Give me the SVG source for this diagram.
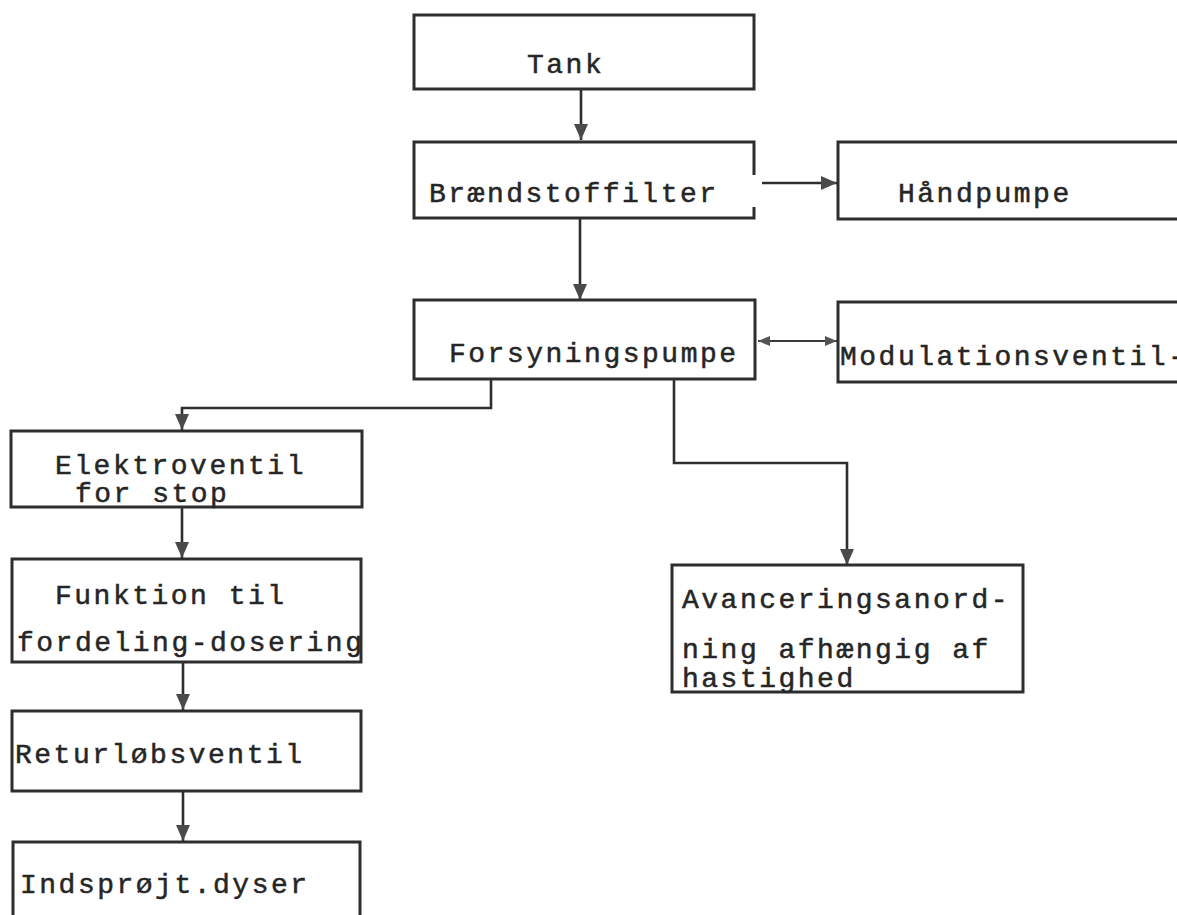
<svg xmlns="http://www.w3.org/2000/svg" width="1177" height="915" viewBox="0 0 1177 915">
  <defs>
    <style>
      .box { fill: #ffffff; stroke: #2e2e2e; stroke-width: 3; }
      .edge { fill: none; stroke: #2e2e2e; stroke-width: 2.6; }
      .thin { fill: none; stroke: #3a3a3a; stroke-width: 2; }
      text { font-family: "Liberation Mono", "DejaVu Sans Mono", monospace; font-size: 28px; letter-spacing: 2.5px; fill: #262626; stroke: #262626; stroke-width: 0.5; }
    </style>
    <marker id="arrow" markerUnits="userSpaceOnUse" markerWidth="16" markerHeight="18" viewBox="0 0 16 18" refX="16" refY="8" orient="auto">
      <path d="M0,1 L16,8 L0,15 Z" fill="#4a4a4a"/>
    </marker>
    <marker id="arrowSmall" markerUnits="userSpaceOnUse" markerWidth="12" markerHeight="12" viewBox="0 0 12 12" refX="12" refY="6" orient="auto-start-reverse">
      <path d="M0,1 L12,6 L0,11 Z" fill="#555555"/>
    </marker>
  </defs>
  <rect width="1177" height="915" fill="#ffffff"/>

  <!-- connectors -->
  <g id="connectors">
    <line class="edge" x1="581" y1="89" x2="581" y2="140" marker-end="url(#arrow)"/>
    <line class="edge" x1="762" y1="183" x2="837" y2="183" marker-end="url(#arrow)"/>
    <line class="edge" x1="580" y1="218" x2="580" y2="300" marker-end="url(#arrow)"/>
    <line class="thin" x1="758" y1="341" x2="837" y2="341" marker-start="url(#arrowSmall)" marker-end="url(#arrowSmall)"/>
    <polyline class="edge" points="491,379 491,408 182,408 182,430" marker-end="url(#arrow)"/>
    <polyline class="edge" points="674,379 674,463 847,463 847,565" marker-end="url(#arrow)"/>
    <line class="edge" x1="182" y1="507" x2="182" y2="558" marker-end="url(#arrow)"/>
    <line class="edge" x1="183" y1="662" x2="183" y2="710" marker-end="url(#arrow)"/>
    <line class="edge" x1="183" y1="791" x2="183" y2="841" marker-end="url(#arrow)"/>
  </g>

  <!-- nodes -->
  <g id="tank">
    <rect class="box" x="414" y="15" width="340" height="74"/>
    <text x="527" y="73">Tank</text>
  </g>

  <g id="braendstoffilter">
    <!-- right side left open where the branch to the hand pump leaves -->
    <path class="box" d="M754,175 L754,142 L414,142 L414,218 L754,218 L754,207"/>
    <text x="429" y="202">Brændstoffilter</text>
  </g>

  <g id="haandpumpe">
    <path class="box" d="M1180,142 L838,142 L838,219 L1180,219"/>
    <text x="898" y="202">Håndpumpe</text>
  </g>

  <g id="forsyningspumpe">
    <rect class="box" x="414" y="300" width="341" height="79"/>
    <text x="449" y="362">Forsyningspumpe</text>
  </g>

  <g id="modulationsventil">
    <path class="box" d="M1180,302 L838,302 L838,382 L1180,382"/>
    <text x="840" y="365">Modulationsventil-</text>
  </g>

  <g id="elektroventil">
    <rect class="box" x="11" y="431" width="351" height="76"/>
    <text x="55" y="474">Elektroventil</text>
    <text x="75" y="502">for stop</text>
  </g>

  <g id="funktion">
    <rect class="box" x="12" y="559" width="349" height="103"/>
    <text x="55" y="604">Funktion til</text>
    <text x="17" y="651">fordeling-dosering</text>
  </g>

  <g id="returloebsventil">
    <rect class="box" x="12" y="711" width="349" height="80"/>
    <text x="15" y="763">Returløbsventil</text>
  </g>

  <g id="indsproejt">
    <path class="box" d="M13,920 L13,842 L360,842 L360,920"/>
    <text x="20" y="893">Indsprøjt.dyser</text>
  </g>

  <g id="avancering">
    <rect class="box" x="672" y="565" width="351" height="127"/>
    <text x="682" y="608">Avanceringsanord-</text>
    <text x="682" y="658">ning afhængig af</text>
    <text x="682" y="687">hastighed</text>
  </g>
</svg>
